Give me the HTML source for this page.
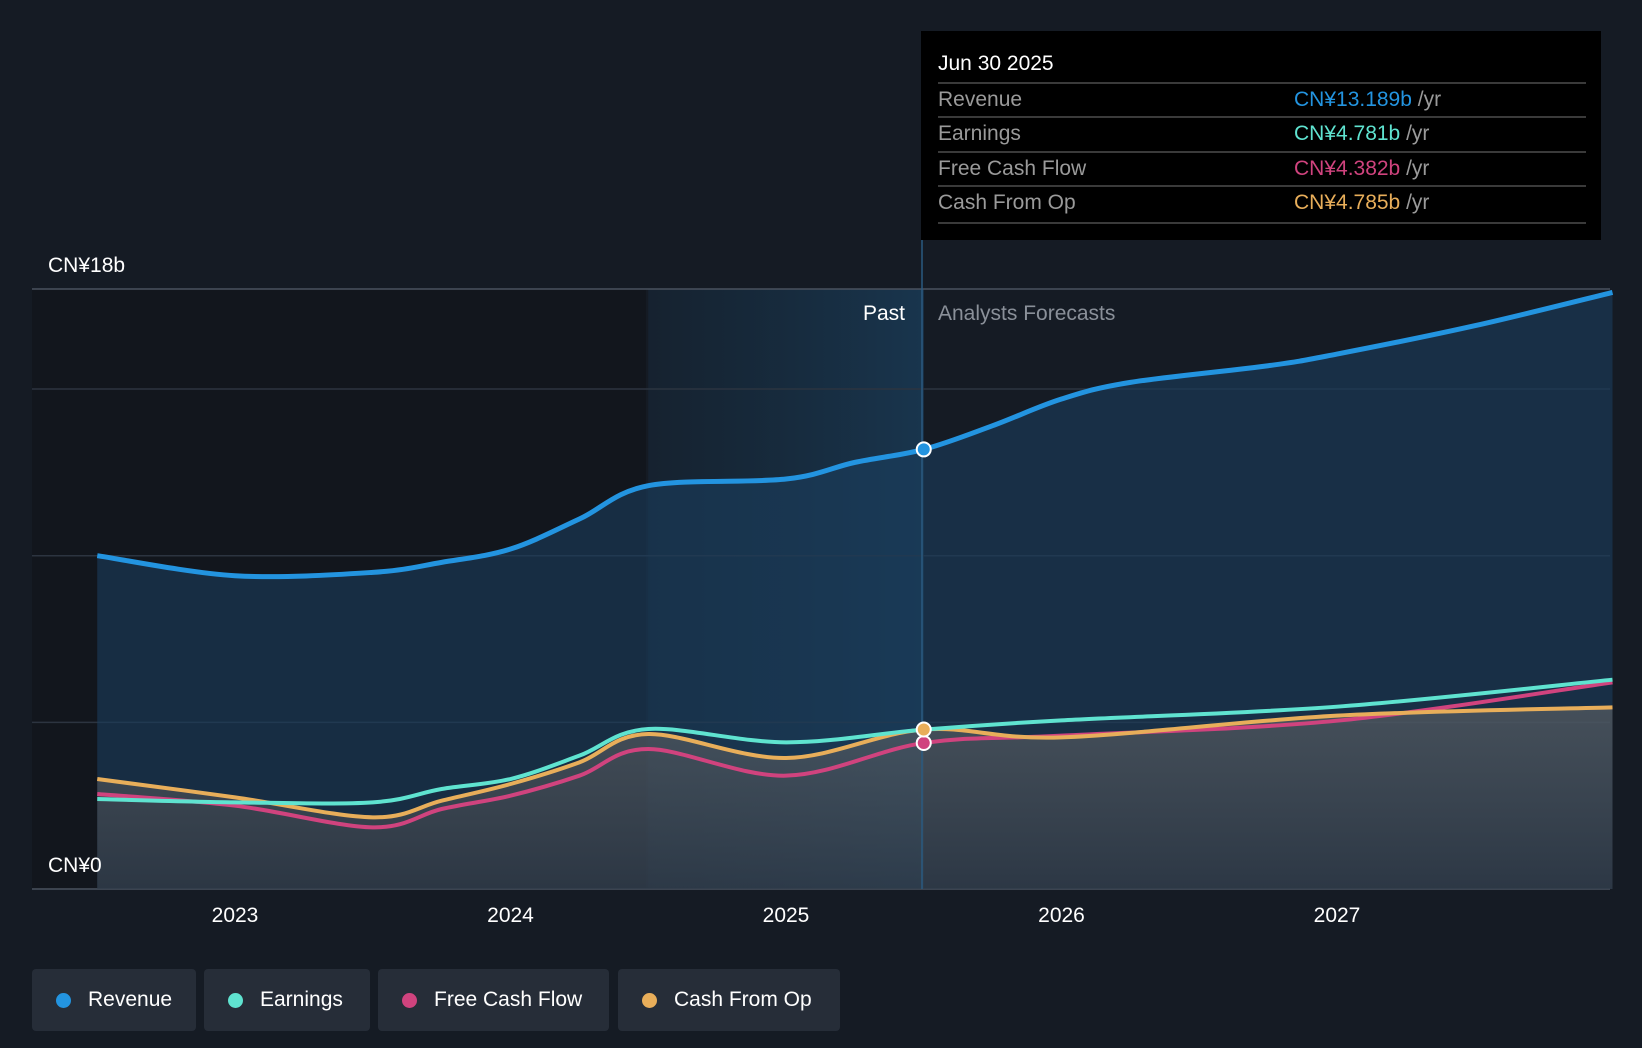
<!DOCTYPE html>
<html><head><meta charset="utf-8"><style>
body{margin:0;background:#151b24;font-family:"Liberation Sans",sans-serif;}
svg{display:block}
.leg{position:absolute;top:969px;height:62px;background:#262d38;border-radius:4px;color:#fff;font-size:21px;display:flex;align-items:center;box-sizing:border-box;padding-left:56px}
.leg i{position:absolute;left:24px;top:24px;width:15px;height:15px;border-radius:50%}
</style></head><body>
<div style="position:relative;width:1642px;height:1048px;overflow:hidden">
<svg id="c" width="1642" height="1048"></svg>
<div class="leg" style="left:32px;width:164px"><i style="background:#2394e0"></i>Revenue</div>
<div class="leg" style="left:204px;width:166px"><i style="background:#5fe3d0"></i>Earnings</div>
<div class="leg" style="left:378px;width:231px"><i style="background:#d0437e"></i>Free Cash Flow</div>
<div class="leg" style="left:618px;width:222px"><i style="background:#e8ae5a"></i>Cash From Op</div>
</div>
<script>
const years=[2022.5,2023,2023.5,2023.75,2024,2024.25,2024.5,2025,2025.25,2025.5,2025.75,2026,2026.25,2026.75,2027,2027.5,2028];
const revenue=[10.0,9.4,9.5,9.8,10.2,11.1,12.1,12.3,12.8,13.189,13.9,14.7,15.2,15.7,16.05,16.9,17.9];
const years2=[2022.5,2023,2023.5,2023.75,2024,2024.25,2024.5,2025,2025.5,2026,2027,2028];
const earnings=[2.7,2.6,2.6,3.0,3.3,4.0,4.8,4.4,4.781,5.06,5.47,6.28];
const fcf=[2.85,2.5,1.85,2.4,2.8,3.4,4.2,3.4,4.382,4.6,5.05,6.2];
const cfo=[3.3,2.75,2.15,2.65,3.15,3.8,4.65,3.93,4.785,4.55,5.2,5.45];
const xTicks=[2023,2024,2025,2026,2027];
const X=t=>235+(t-2023)*275.5, Y=v=>889-v*33.33;
const svg=document.getElementById('c');const NS='http://www.w3.org/2000/svg';
function el(tag,a,txt){const e=document.createElementNS(NS,tag);for(const k in a)e.setAttribute(k,a[k]);if(txt!=null)e.textContent=txt;svg.appendChild(e);return e;}
function path(xs,vs){const p=xs.map((t,i)=>[X(t),Y(vs[i])]);let d=`M${p[0][0]},${p[0][1]}`;
for(let i=0;i<p.length-1;i++){const p0=p[i-1]||p[i],p1=p[i],p2=p[i+1],p3=p[i+2]||p2;
d+=`C${p1[0]+(p2[0]-p0[0])/6},${p1[1]+(p2[1]-p0[1])/6} ${p2[0]-(p3[0]-p1[0])/6},${p2[1]-(p3[1]-p1[1])/6} ${p2[0]},${p2[1]}`;}return d;}
const defs=el('defs',{});
defs.innerHTML='<linearGradient id="g1" x1="0" y1="0" x2="0" y2="1"><stop offset="0" stop-color="#6a6a6a" stop-opacity=".55"/><stop offset="1" stop-color="#3a3d44" stop-opacity=".6"/></linearGradient><linearGradient id="band" x1="0" y1="0" x2="1" y2="0"><stop offset="0" stop-color="#1a4a70" stop-opacity=".15"/><stop offset="1" stop-color="#1c5580" stop-opacity=".45"/></linearGradient>';
const pastRect=el('rect',{x:32,y:289,width:614,height:600,fill:'#12161d'});

const bandRect=el('rect',{x:X(2024.5),y:289,width:X(2025.5)-X(2024.5),height:600,fill:'url(#band)'});

[15,10,5].forEach(v=>{const g=el('line',{x1:32,x2:1610,y1:Y(v),y2:Y(v),stroke:'#2c3440','stroke-width':1.5});});
const topLine=el('line',{x1:32,x2:1610,y1:289,y2:289,stroke:'#4a525e','stroke-width':1.5});
const botLine=el('line',{x1:32,x2:1610,y1:889,y2:889,stroke:'#4a525e','stroke-width':1.5});
const base=` L${X(2028)},889 L${X(2022.5)},889 Z`;
const ra=el('path',{d:path(years,revenue)+base,fill:'#1a3d5e','fill-opacity':.6});
const ea=el('path',{d:path(years2,cfo)+base,fill:'url(#g1)'});
const divLine=el('line',{x1:922,x2:922,y1:240,y2:889,stroke:'#2a5a80','stroke-width':1.5});
[[fcf,'#d0437e','fcf-line'],[cfo,'#e8ae5a','cfo-line'],[earnings,'#5fe3d0','earnings-line']].forEach(([v,c,n])=>{const l=el('path',{d:path(years2,v),fill:'none',stroke:c,'stroke-width':4});});
const rl=el('path',{d:path(years,revenue),fill:'none',stroke:'#2394e0','stroke-width':5});
[[revenue[9],'#2394e0'],[fcf[8],'#d0437e'],[cfo[8],'#e8ae5a']].forEach(([v,c])=>{const d=el('circle',{cx:X(2025.5),cy:Y(v),r:7,fill:c,stroke:'#fff','stroke-width':2});});
xTicks.forEach(t=>{const l=el('text',{x:X(t),y:922,fill:'#fff','font-size':21,'text-anchor':'middle'},t);});
const yMax=el('text',{x:48,y:272,fill:'#fff','font-size':21},'CN¥18b');
const yZero=el('text',{x:48,y:872,fill:'#fff','font-size':21},'CN¥0');
const pastLbl=el('text',{x:905,y:320,fill:'#fff','font-size':21,'text-anchor':'end'},'Past');
const fcLbl=el('text',{x:938,y:320,fill:'#8a9099','font-size':21},'Analysts Forecasts');
const ttRect=el('rect',{x:921,y:31,width:680,height:209,fill:'#000'});
const ttHead=el('text',{x:938,y:70,fill:'#fff','font-size':21},'Jun 30 2025');
const rows=[['Revenue','CN¥13.189b','#2394e0'],['Earnings','CN¥4.781b','#5fe3d0'],['Free Cash Flow','CN¥4.382b','#d0437e'],['Cash From Op','CN¥4.785b','#e8ae5a']];
const rowY=[106,140,175,209];
rows.forEach((r,i)=>{const ln=el('line',{x1:938,x2:1586,y1:rowY[i]-23,y2:rowY[i]-23,stroke:'#3a3a3a','stroke-width':2});
const a=el('text',{x:938,y:rowY[i],fill:'#9a9a9a','font-size':21},r[0]);
const v=el('text',{x:1294,y:rowY[i],'font-size':21});v.innerHTML=`<tspan fill="${r[2]}">${r[1]}</tspan><tspan fill="#9a9a9a"> /yr</tspan>`;});
const lastDiv=el('line',{x1:938,x2:1586,y1:223,y2:223,stroke:'#3a3a3a','stroke-width':2});
</script>
</body></html>
